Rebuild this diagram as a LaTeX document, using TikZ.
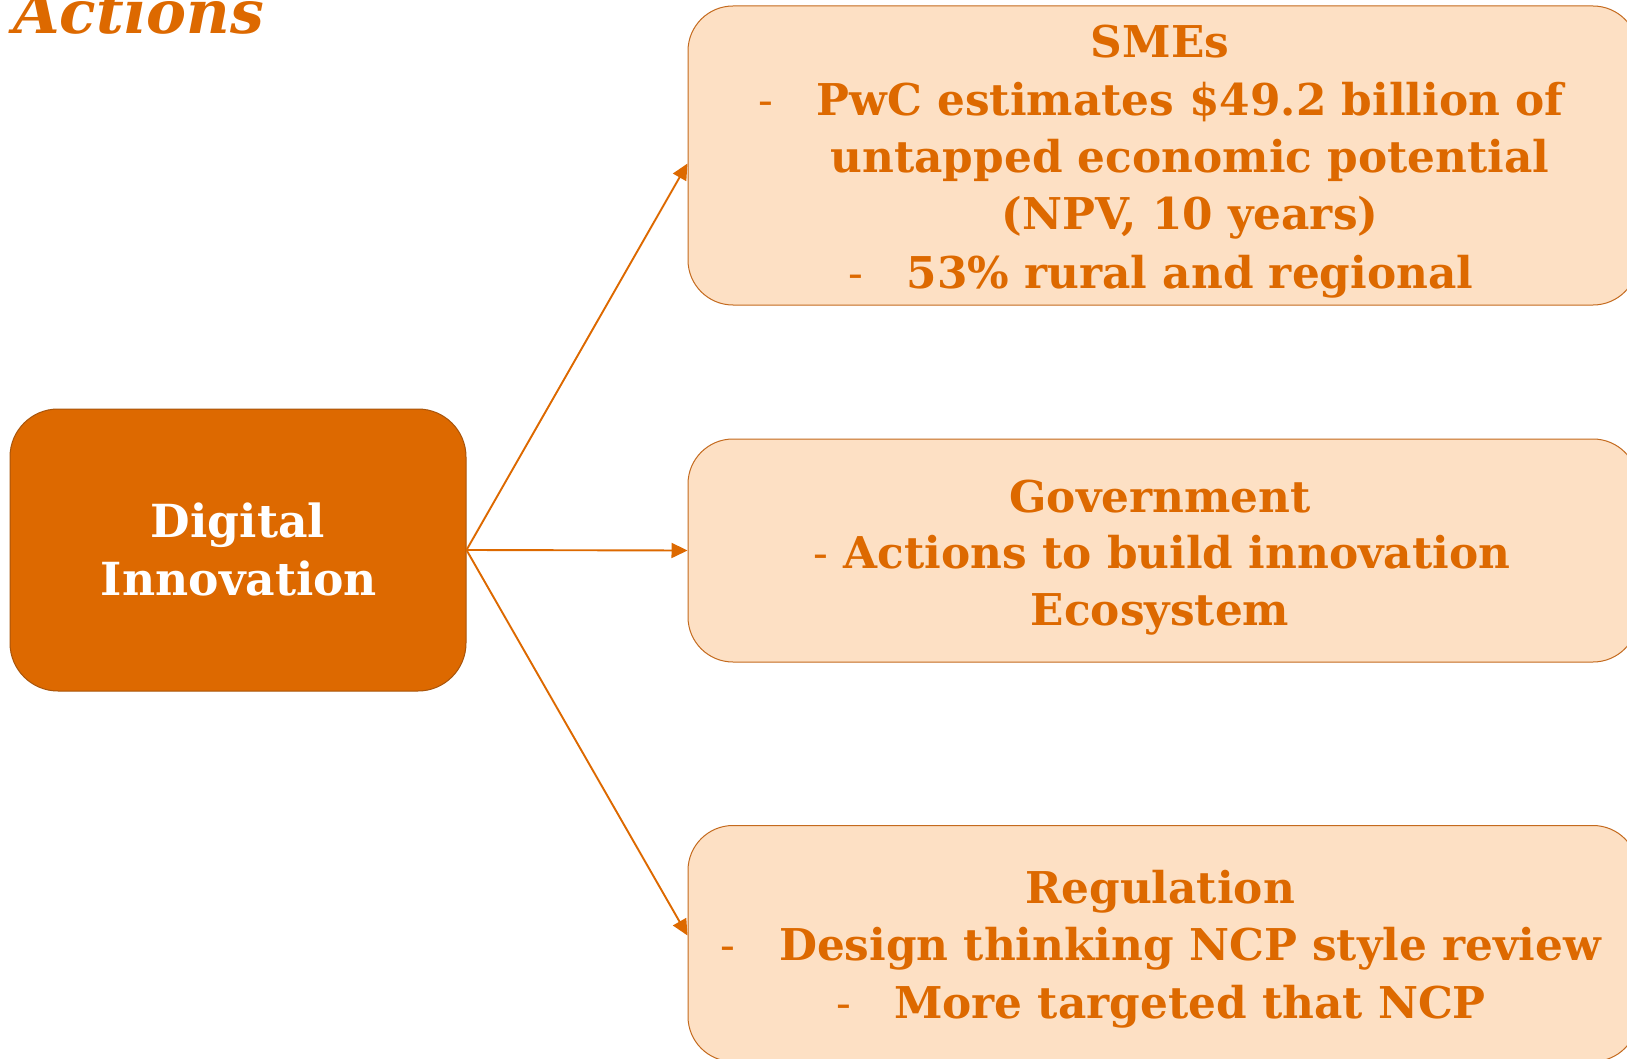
\documentclass[tikz,border=0pt]{standalone}
\usepackage{fontspec}
\setmainfont{DejaVu Serif}
\usetikzlibrary{arrows.meta}
\definecolor{dorange}{HTML}{DD6900}
\definecolor{peach}{HTML}{FDE0C4}
\definecolor{pborder}{HTML}{C46A1E}
\definecolor{lborder}{HTML}{A9550B}
\begin{document}
\begin{tikzpicture}[x=1pt,y=-1pt,
  txt/.style={inner sep=0pt, outer sep=0pt, text=dorange, font=\fontsize{43.8}{57.5}\selectfont\bfseries},
  wtxt/.style={inner sep=0pt, outer sep=0pt, text=white, font=\fontsize{45.6}{57.5}\selectfont\bfseries},
  hy/.style={inner sep=0pt, outer sep=0pt, text=dorange, font=\fontsize{43.8}{57.5}\selectfont},
  lightbox/.style={draw=pborder, line width=1pt, fill=peach, rounded corners=45pt, inner sep=0pt},
  arr/.style={draw=dorange, line width=1.9pt, -{Triangle[length=16pt,width=15pt]}}
]
\useasboundingbox (0,0) rectangle (1627,1059);
\fill[white] (0,0) rectangle (1627,1059);

\node[draw=lborder, line width=1pt, fill=dorange, rounded corners=48pt, minimum width=456pt, minimum height=282pt, inner sep=0pt] (di) at (238,550) {};
\node[lightbox, minimum width=950pt, minimum height=299pt] (sme) at (1163,155.5) {};
\node[lightbox, minimum width=950pt, minimum height=223pt] (gov) at (1163,550.5) {};
\node[lightbox, minimum width=950pt, minimum height=236pt] (reg) at (1163,943.5) {};

\node[anchor=base west, inner sep=0pt, text=dorange, font=\fontsize{60}{64}\selectfont\bfseries\itshape] (title) at (13,34) {Actions};

\node[wtxt, anchor=base] (dit1) at (238,537) {Digital};
\node[wtxt, anchor=base] (dit2) at (239,595) {Innovation};

\node[txt, anchor=base] (smeh) at (1160,58) {SMEs};
\node[txt, anchor=base] (sme1) at (1190,116) {PwC estimates \$49.2 billion of};
\node[hy, anchor=base west] (sme1d) at ([xshift=-58pt]sme1.base west) {-};
\node[txt, anchor=base] (sme2) at (1190,173) {untapped economic potential};
\node[txt, anchor=base] (sme3) at (1190,230) {(NPV, 10 years)};
\node[txt, anchor=base] (sme4) at (1190,288) {53\% rural and regional};
\node[hy, anchor=base west] (sme4d) at ([xshift=-58pt]sme4.base west) {-};

\node[txt, anchor=base] (govh) at (1160,512) {Government};
\node[txt, anchor=base] (gov1) at (1162,568) {{\mdseries -} Actions to build innovation};
\node[txt, anchor=base] (gov2) at (1160,625) {Ecosystem};

\node[txt, anchor=base] (regh) at (1160,903) {Regulation};
\node[txt, anchor=base] (reg1) at (1190,960) {Design thinking NCP style review};
\node[hy, anchor=base west] (reg1d) at ([xshift=-59pt]reg1.base west) {-};
\node[txt, anchor=base] (reg2) at (1190,1018) {More targeted that NCP};
\node[hy, anchor=base west] (reg2d) at ([xshift=-58pt]reg2.base west) {-};

\draw[arr] (di.east) -- ([yshift=-8pt]sme.west);
\draw[arr] (di.east) -- (gov.west);
\draw[arr] (di.east) -- ([yshift=8pt]reg.west);
\end{tikzpicture}
\end{document}
